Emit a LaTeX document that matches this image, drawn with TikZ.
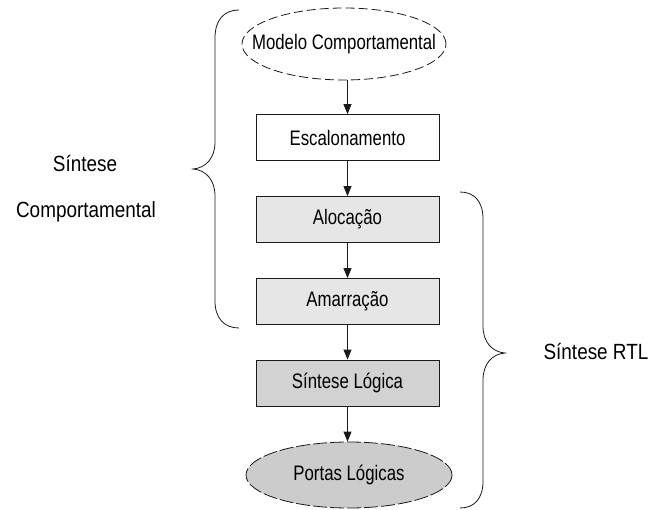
\documentclass[tikz,border=0pt]{standalone}
\usepackage{fontspec}
\setmainfont{Liberation Sans}[FakeStretch=0.80]
\newfontfamily\labelfont{Liberation Sans}[FakeStretch=0.86]
\usetikzlibrary{shapes.geometric,arrows.meta}
\definecolor{boxlight}{HTML}{E6E6E6}
\definecolor{boxdark}{HTML}{D2D2D2}
\definecolor{ovalgray}{HTML}{CCCCCC}
\definecolor{edge}{HTML}{1A1A1A}
\begin{document}
\begin{tikzpicture}[x=1pt,y=-1pt,
  every node/.style={font=\fontsize{21}{23}\selectfont, text=black},
  stage/.style={draw=edge, line width=0.8pt, minimum width=183pt, minimum height=46pt, inner sep=0pt},
  oval/.style={ellipse, draw=edge, line width=0.8pt, inner sep=0pt},
  flow/.style={draw=edge, line width=0.8pt, -{Triangle[length=10pt,width=8pt]}},
  bracket/.style={draw=edge, line width=0.8pt},
  side/.style={font=\labelfont\fontsize{22}{24}\selectfont}]
  \useasboundingbox (0,0) rectangle (655,510);

  % flow of synthesis steps (oval text boxed to zero width so the size is fixed)
  \node[oval, fill=white, dash pattern=on 9pt off 4pt, minimum width=204pt, minimum height=72pt] (model) at (344,44) {\makebox[0pt]{Modelo Comportamental}};
  \node[stage, fill=white] (sched) at (347.5,137.5) {Escalonamento};
  \node[stage, fill=boxlight] (alloc) at (347.5,219.5) {Alocação};
  \node[stage, fill=boxlight] (bind) at (347.5,301.5) {Amarração};
  \node[stage, fill=boxdark] (logic) at (347.5,383) {Síntese Lógica};
  \node[oval, fill=ovalgray, dash pattern=on 14pt off 3pt, minimum width=206pt, minimum height=66pt] (gates) at (349,475) {\makebox[0pt]{Portas Lógicas}};

  \draw[flow] (model.south -| sched.north) -- (sched.north);
  \draw[flow] (sched) -- (alloc);
  \draw[flow] (alloc) -- (bind);
  \draw[flow] (bind) -- (logic);
  \draw[flow] (logic.south) -- (logic.south |- gates.north);

  % left bracket: behavioural synthesis
  \coordinate (lt) at (239,10);
  \coordinate (ltip) at (193,169);
  \coordinate (lb) at (239,328);
  \draw[bracket] (lt) .. controls (224,10) and (215,20) .. (215,38)
    -- (215,142) .. controls (215,158) and (206,168) .. (ltip)
    .. controls (206,170) and (215,180) .. (215,196)
    -- (215,301) .. controls (215,318) and (224,328) .. (lb);

  % right bracket: RTL synthesis
  \coordinate (rt) at (460,192);
  \coordinate (rtip) at (505,353);
  \coordinate (rb) at (460,508);
  \draw[bracket] (rt) .. controls (474,192) and (483,201) .. (483,219)
    -- (483,326) .. controls (483,342) and (492,352) .. (rtip)
    .. controls (492,354) and (483,364) .. (483,380)
    -- (483,481) .. controls (483,499) and (474,508) .. (rb);

  \node[side] (beh1) at (85,164) {Síntese};
  \node[side] (beh2) at (86,212) {Comportamental};
  \node[side] (rtl) at (596,352) {Síntese RTL};
\end{tikzpicture}
\end{document}
